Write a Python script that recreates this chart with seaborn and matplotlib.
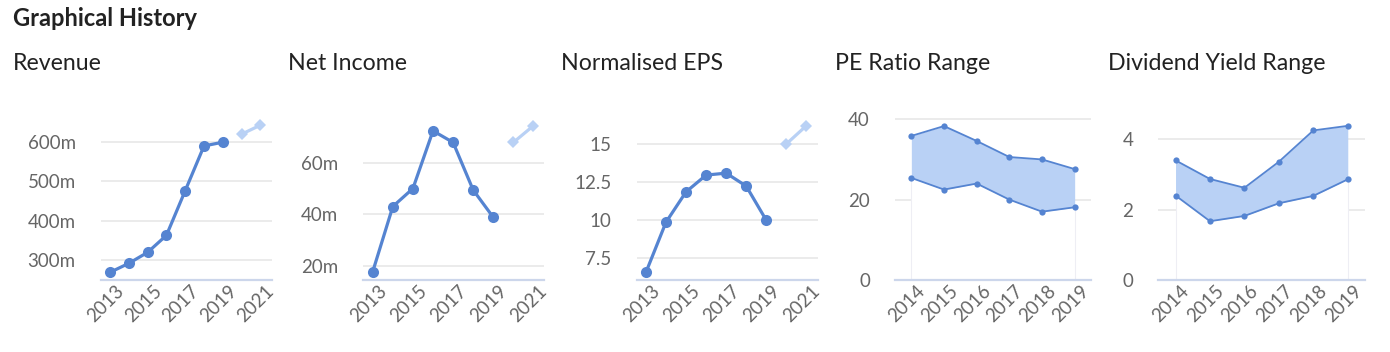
import numpy as np
import pandas as pd
import matplotlib
matplotlib.use("Agg")
import matplotlib.pyplot as plt
import matplotlib.transforms as mtransforms
import seaborn as sns

# ------------------------------------------------------------
# Datos
# ------------------------------------------------------------
years_hist = [2013, 2014, 2015, 2016, 2017, 2018, 2019]
years_fcst = [2020, 2021]

revenue = [268.6, 291.5, 319.5, 362.8, 476.6, 590.4, 600.0]
revenue_fcst = [620.4, 643.3]

net_income = [17.7, 43.0, 50.0, 72.4, 67.9, 49.4, 38.8]
net_income_fcst = [67.9, 74.4]

eps = [6.58, 9.87, 11.86, 12.96, 13.09, 12.24, 10.0]
eps_fcst = [15.0, 16.2]

years_range = [2014, 2015, 2016, 2017, 2018, 2019]
pe_high = [35.85, 38.3, 34.6, 30.6, 30.0, 27.6]
pe_low = [25.4, 22.5, 24.0, 20.0, 17.0, 18.1]
dy_high = [3.40, 2.87, 2.62, 3.36, 4.25, 4.38]
dy_low = [2.40, 1.67, 1.82, 2.18, 2.39, 2.86]

W, H = 1390, 352
BLUE = "#5584d1"
LIGHT = "#b9d1f5"
GRID = "#e6e6e6"
AXIS = "#ccd6eb"
TICK = "#666666"
FS_TICK = 13.5

sns.set_style("white")
plt.rcParams['font.family'] = ['Lato', 'DejaVu Sans']

fig = plt.figure(figsize=(W / 100, H / 100), dpi=100)


def caja(x0, x1, top=110, bottom=280):
    return [x0 / W, 1 - bottom / H, (x1 - x0) / W, (bottom - top) / H]


def estilo(ax, yticks, ylabels, ylim, xlim, xticks):
    ax.set_ylim(*ylim)
    ax.set_xlim(*xlim)
    ax.set_yticks(yticks)
    ax.set_yticklabels(ylabels)
    ax.set_xticks(xticks)
    ax.set_xticklabels([str(x) for x in xticks])
    for y in yticks:
        ax.axhline(y, color=GRID, lw=1.1, zorder=0)
    for s in ['top', 'right', 'left']:
        ax.spines[s].set_visible(False)
    ax.spines['bottom'].set_color(AXIS)
    ax.spines['bottom'].set_linewidth(1.6)
    ax.spines['bottom'].set_zorder(5)
    ax.tick_params(axis='y', length=0, pad=18, labelsize=FS_TICK, labelcolor=TICK)
    ax.tick_params(axis='x', length=0, pad=6, labelsize=FS_TICK, labelcolor=TICK)
    ax.set_xlabel('')
    ax.set_ylabel('')
    off = mtransforms.ScaledTranslation(11 / 100, 0, fig.dpi_scale_trans)
    for lab in ax.get_xticklabels():
        lab.set_rotation(45)
        lab.set_ha('right')
        lab.set_va('center')
        lab.set_rotation_mode('anchor')
        lab.set_transform(lab.get_transform() + off)


def linea(box, hist, fcst, yticks, ylabels, ylim, xlim):
    ax = fig.add_axes(box)
    df = pd.DataFrame({'year': years_hist, 'valor': hist})
    dff = pd.DataFrame({'year': years_fcst, 'valor': fcst})
    sns.lineplot(data=df, x='year', y='valor', ax=ax, color=BLUE, lw=2.3,
                 marker='o', markersize=8, markeredgewidth=0, zorder=3)
    sns.lineplot(data=dff, x='year', y='valor', ax=ax, color=LIGHT, lw=2.3,
                 marker='D', markersize=6, markeredgewidth=0, zorder=3)
    estilo(ax, yticks, ylabels, ylim, xlim, [2013, 2015, 2017, 2019, 2021])
    return ax


def rango(box, high, low, yticks, ylim):
    ax = fig.add_axes(box)
    ax.fill_between(years_range, low, high, color=LIGHT, lw=0, zorder=2)
    ax.fill_between(years_range, 0, low, color='white', lw=0, zorder=1)
    # bordes tenues del area inferior
    ax.plot([years_range[0]] * 2, [0, low[0]], color='#eeeef4', lw=0.8, zorder=1)
    ax.plot([years_range[-1]] * 2, [0, low[-1]], color='#eeeef4', lw=0.8, zorder=1)
    df = pd.DataFrame({'year': years_range * 2,
                       'valor': high + low,
                       'serie': ['high'] * 6 + ['low'] * 6})
    sns.lineplot(data=df, x='year', y='valor', units='serie', estimator=None,
                 ax=ax, color=BLUE, lw=1.3, marker='o', markersize=4.5,
                 markeredgewidth=0, zorder=3)
    estilo(ax, yticks, [str(y) for y in yticks], ylim, (2013.5, 2019.5),
           years_range)
    return ax


linea(caja(100.7, 272), revenue, revenue_fcst, [300, 400, 500, 600],
      ['300m', '400m', '500m', '600m'], (249, 682), (2012.5, 2021.62))
linea(caja(363.3, 544.3), net_income, net_income_fcst, [20, 40, 60],
      ['20m', '40m', '60m'], (14.45, 80.5), (2012.53, 2021.54))
linea(caja(636.7, 818), eps, eps_fcst, [7.5, 10, 12.5, 15],
      ['7.5', '10', '12.5', '15'], (6.08, 17.23), (2012.54, 2021.58))
rango(caja(895, 1091), pe_high, pe_low, [0, 20, 40], (0, 42.3))
rango(caja(1158.3, 1365), dy_high, dy_low, [0, 2, 4], (0, 4.83))

# Titulos
fig.text(13 / W, 1 - 18 / H, 'Graphical History', fontsize=17, fontweight='bold',
         color='#222222', va='center', ha='left')
for x, t in [(13, 'Revenue'), (288, 'Net Income'), (561, 'Normalised EPS'),
             (835, 'PE Ratio Range'), (1108, 'Dividend Yield Range')]:
    fig.text(x / W, 1 - 63 / H, t, fontsize=16.7, color='#222222', va='center', ha='left')

fig.savefig('out.png', dpi=100)
